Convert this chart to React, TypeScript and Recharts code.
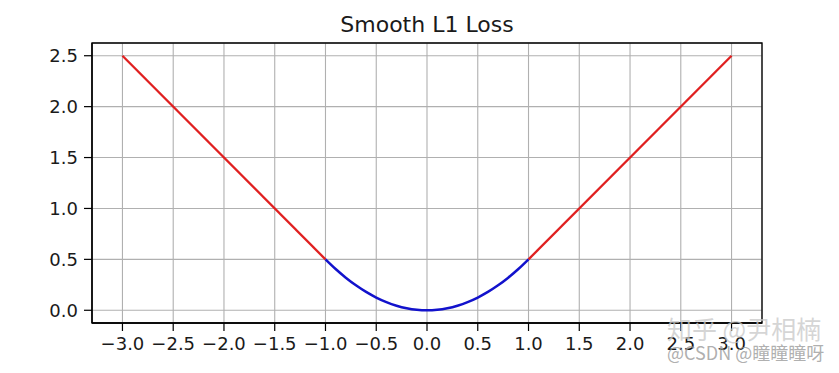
import React from 'react';
import {
  ComposedChart,
  Line,
  XAxis,
  YAxis,
  CartesianGrid,
  ReferenceArea,
} from 'recharts';

// ticks shown on both axes
const xTicks = [-3, -2.5, -2, -1.5, -1, -0.5, 0, 0.5, 1, 1.5, 2, 2.5, 3];
const yTicks = [0, 0.5, 1, 1.5, 2, 2.5];

// red linear parts, |x| > 1
const leftRed = [
  { x: -3, y: 2.5 },
  { x: -1, y: 0.5 },
];
const rightRed = [
  { x: 1, y: 0.5 },
  { x: 3, y: 2.5 },
];

// blue quadratic part
const blueX = [-1, -0.9, -0.8, -0.7, -0.6, -0.5, -0.4, -0.3, -0.2, -0.1, 0, 0.1, 0.2, 0.3, 0.4, 0.5, 0.6, 0.7, 0.8, 0.9, 1];
const blueY = [0.5, 0.405, 0.32, 0.245, 0.18, 0.125, 0.08, 0.045, 0.02, 0.005, 0, 0.005, 0.02, 0.045, 0.08, 0.125, 0.18, 0.245, 0.32, 0.405, 0.5];
const blue = blueX.map((x, i) => ({ x, y: blueY[i] }));

const FONT = '"DejaVu Sans", sans-serif';
const fmt = (v: number) => (v < 0 ? '\u2212' : '') + Math.abs(v).toFixed(1);

const App: React.FC = () => {
  return (
    <div style={{ position: 'absolute', left: 0, top: 0, width: 839, height: 373, background: '#fff' }}>
      <ComposedChart
        width={839}
        height={373}
        margin={{ top: 43, right: 77, bottom: 20, left: 0 }}
      >
        <CartesianGrid stroke="#b0b0b0" strokeWidth={1.1} />
        <XAxis
          type="number"
          dataKey="x"
          domain={[-3.3, 3.3]}
          ticks={xTicks}
          allowDataOverflow
          height={30}
          tickSize={8}
          tickMargin={6}
          tickFormatter={fmt}
          stroke="#000"
          tick={{ fill: '#1a1a1a', fontSize: 18, fontFamily: FONT }}
          tickLine={{ stroke: '#000', strokeWidth: 1.2 }}
          axisLine={{ stroke: '#000', strokeWidth: 1.3 }}
        />
        <YAxis
          type="number"
          domain={[-0.125, 2.625]}
          ticks={yTicks}
          allowDataOverflow
          width={92}
          tickSize={8}
          tickMargin={6}
          tickFormatter={fmt}
          stroke="#000"
          tick={{ fill: '#1a1a1a', fontSize: 18, fontFamily: FONT }}
          tickLine={{ stroke: '#000', strokeWidth: 1.2 }}
          axisLine={{ stroke: '#000', strokeWidth: 1.3 }}
        />
        <ReferenceArea
          x1={-3.3}
          x2={3.3}
          y1={-0.125}
          y2={2.625}
          fill="none"
          fillOpacity={0}
          stroke="#000"
          strokeWidth={1.3}
          strokeOpacity={1}
        />
        <Line data={leftRed} dataKey="y" type="linear" stroke="#e02020" strokeWidth={2.3} dot={false} isAnimationActive={false} />
        <Line data={rightRed} dataKey="y" type="linear" stroke="#e02020" strokeWidth={2.3} dot={false} isAnimationActive={false} />
        <Line data={blue} dataKey="y" type="monotone" stroke="#1212cc" strokeWidth={2.5} dot={false} isAnimationActive={false} />
      </ComposedChart>
      <svg
        width={839}
        height={373}
        style={{ position: 'absolute', left: 0, top: 0, pointerEvents: 'none' }}
      >
        <text x={427} y={32} textAnchor="middle" fontFamily={FONT} fontSize={22} fill="#1a1a1a">
          Smooth L1 Loss
        </text>
        <text x={667} y={339} fontFamily='"Noto Sans CJK SC", sans-serif' fontSize={25} fill="#c8c8c8" fillOpacity={0.75}>
          知乎 @尹相楠
        </text>
        <text x={667} y={360} fontFamily='"Noto Sans CJK SC", sans-serif' fontSize={18} fill="#9a9a9a" fillOpacity={0.8}>
          @CSDN @瞳瞳瞳呀
        </text>
      </svg>
    </div>
  );
};

export default App;
